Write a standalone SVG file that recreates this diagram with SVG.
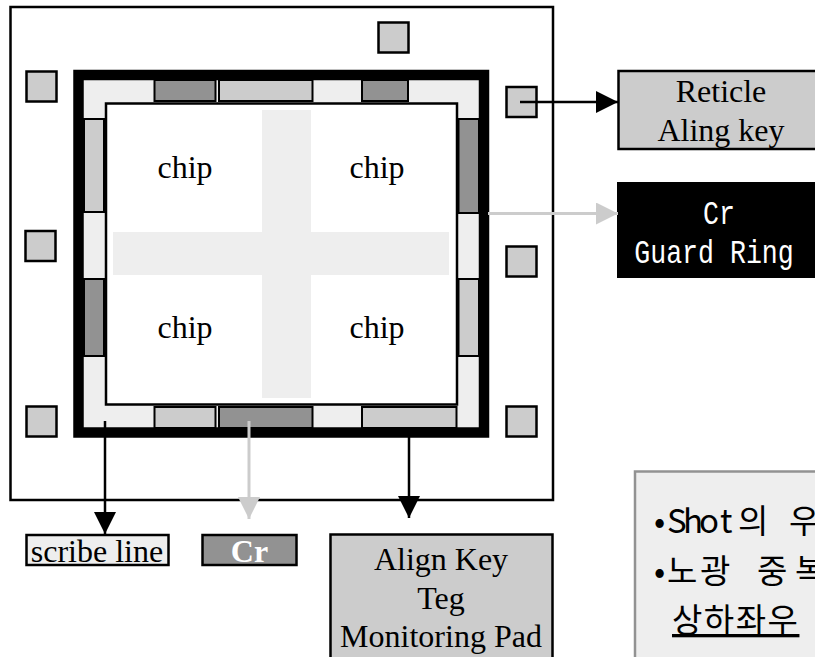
<svg xmlns="http://www.w3.org/2000/svg" width="815" height="657" viewBox="0 0 815 657">
<style>
.t{font-family:"Liberation Serif",serif;font-size:32px;fill:#000;text-anchor:middle}
.m{font-family:"Liberation Mono",monospace;font-size:26.6px;fill:#fff;text-anchor:middle}
.k{font-family:"Noto Sans CJK KR","Liberation Sans",sans-serif;font-size:33px;font-weight:400;fill:#000}
.key{fill:#cccccc;stroke:#000;stroke-width:2.5}
.lt{fill:#cccccc;stroke:#000;stroke-width:2}
.dk{fill:#929292;stroke:#000;stroke-width:2}
.blk{fill:none;stroke:#000;stroke-width:2.5}
.gry{fill:none;stroke:#cccccc;stroke-width:3}
</style>
<defs>
<marker id="ab" markerUnits="userSpaceOnUse" markerWidth="22" markerHeight="22" refX="22" refY="11" orient="auto"><path d="M0 0L22 11L0 22Z" fill="#000"/></marker>
<marker id="ag" markerUnits="userSpaceOnUse" markerWidth="22" markerHeight="22" refX="22" refY="11" orient="auto"><path d="M0 0L22 11L0 22Z" fill="#cccccc"/></marker>
</defs>
<rect width="815" height="657" fill="#fff"/>
<g id="frame"><rect x="10.500" y="7" width="542.500" height="493" fill="#fff" stroke="#000" stroke-width="2.500"/></g>
<g id="ring">
<rect x="78.500" y="75" width="405.500" height="357.500" fill="#eeeeee" stroke="#000" stroke-width="10.500"/>
<rect x="106" y="103.500" width="351" height="301" fill="#fff" stroke="#000" stroke-width="2.500"/>
</g>
<g id="cross"><rect x="262" y="110" width="49" height="288" fill="#eeeeee"/><rect x="113" y="232" width="336" height="43" fill="#eeeeee"/></g>
<g id="segments">
<rect class="dk" x="154.500" y="80" width="61" height="21"/>
<rect class="lt" x="219" y="80" width="93.500" height="21"/>
<rect class="dk" x="362" y="80" width="46" height="21"/>
<rect class="lt" x="84" y="119" width="20" height="93"/>
<rect class="dk" x="84" y="279" width="20" height="77"/>
<rect class="dk" x="458.500" y="119" width="20.500" height="94"/>
<rect class="lt" x="458.500" y="279" width="20.500" height="77"/>
<rect class="lt" x="154.500" y="407" width="61" height="21"/>
<rect class="dk" x="219" y="407" width="93.500" height="21"/>
<rect class="lt" x="362" y="407" width="94.500" height="21"/>
</g>
<g id="key-1"><rect class="key" x="26.500" y="71.500" width="30" height="30"/></g>
<g id="key-2"><rect class="key" x="378.500" y="22.500" width="30" height="30"/></g>
<g id="key-3"><rect class="key" x="506.500" y="87" width="30" height="30"/></g>
<g id="key-4"><rect class="key" x="506.500" y="246.500" width="30" height="30"/></g>
<g id="key-5"><rect class="key" x="25.500" y="231" width="30" height="30"/></g>
<g id="key-6"><rect class="key" x="26.500" y="406.500" width="30" height="30"/></g>
<g id="key-7"><rect class="key" x="506.500" y="406.500" width="30" height="30"/></g>
<g id="chip-1"><text class="t" x="185" y="178">chip</text></g>
<g id="chip-2"><text class="t" x="377" y="178">chip</text></g>
<g id="chip-3"><text class="t" x="185" y="338">chip</text></g>
<g id="chip-4"><text class="t" x="377" y="338">chip</text></g>
<g id="reticle"><rect x="618.500" y="71" width="200" height="78" fill="#cccccc" stroke="#000" stroke-width="2.500"/><text class="t" x="721" y="102">Reticle</text><text class="t" x="721" y="141">Aling key</text></g>
<g id="guard"><rect x="617" y="182" width="198" height="96" fill="#000"/><text class="m" transform="translate(719 224) scale(1 1.25)">Cr</text><text class="m" transform="translate(714 263) scale(1 1.25)">Guard Ring</text></g>
<g id="scribe"><rect x="26.500" y="535" width="142" height="30" fill="#eeeeee" stroke="#000" stroke-width="2.500"/><text class="t" x="97" y="562">scribe line</text></g>
<g id="cr"><rect x="202.500" y="535" width="94" height="30" fill="#929292" stroke="#000" stroke-width="2.500"/><text class="t" x="249.500" y="562" style="fill:#fff;font-weight:700">Cr</text></g>
<g id="align"><rect x="330.500" y="534.500" width="222" height="130" fill="#cccccc" stroke="#000" stroke-width="2.500"/><text class="t" x="441" y="570">Align Key</text><text class="t" x="441" y="609">Teg</text><text class="t" x="441" y="647">Monitoring Pad</text></g>
<g id="note"><rect x="635" y="471.500" width="190" height="200" fill="#eeeeee" stroke="#929292" stroke-width="2.500"/>
<text class="k" x="654 667 683 699 720 738 775 789" y="533">•Shot의 우</text>
<text class="k" x="654 667 700 745 757 795" y="583">•노광 중복</text>
<text class="k" x="672" y="632" letter-spacing="1.500" text-decoration="underline">상하좌우</text></g>
<g id="connectors">
<path class="blk" d="M520 102H618" marker-end="url(#ab)"/>
<path class="gry" d="M488 213.500H618" marker-end="url(#ag)"/>
<path class="blk" d="M105 421V534" marker-end="url(#ab)"/>
<path class="gry" d="M249 421V519" marker-end="url(#ag)"/>
<path class="blk" d="M409 437V518" marker-end="url(#ab)"/>
</g>
</svg>
